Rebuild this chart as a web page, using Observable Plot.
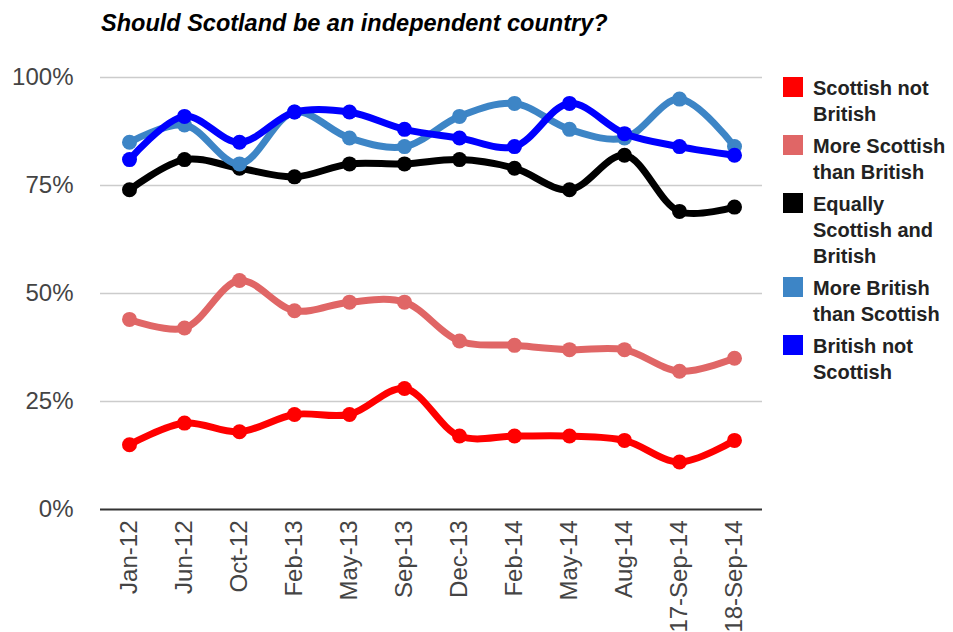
<!DOCTYPE html>
<html><head><meta charset="utf-8">
<script src="https://cdn.jsdelivr.net/npm/d3@7"></script>
<script src="https://cdn.jsdelivr.net/npm/@observablehq/plot@0.6"></script>
<style>
body{margin:0;background:#fff;width:953px;height:632px;overflow:hidden;position:relative;font-family:Arial,"Liberation Sans",sans-serif;}
#title{position:absolute;left:101px;top:10px;font-size:23.5px;font-weight:bold;font-style:italic;color:#000;line-height:normal;white-space:nowrap}
#chart{position:absolute;left:0;top:0}
#legend{position:absolute;left:783px;top:75px}
.item{display:flex;align-items:flex-start;margin-bottom:6px}
.sw{width:20px;height:20px;margin-top:2px;margin-right:10px;flex:none}
.lab{font-size:20px;font-weight:bold;color:#222;line-height:26px;width:150px}
</style></head><body>
<div id="title">Should Scotland be an independent country?</div>
<div id="chart"></div>
<div id="legend"></div>
<script>
const dates = ["Jan-12","Jun-12","Oct-12","Feb-13","May-13","Sep-13","Dec-13","Feb-14","May-14","Aug-14","17-Sep-14","18-Sep-14"];
const seriesNames = ["Scottish not British","More Scottish than British","Equally Scottish and British","More British than Scottish","British not Scottish"];
const seriesColors = ["#ff0000","#e06666","#000000","#3d85c6","#0000ff"];
const scottishNotBritish = [15,20,18,22,22,28,17,17,17,16,11,16];
const moreScottishThanBritish = [44,42,53,46,48,48,39,38,37,37,32,35];
const equallyScottishAndBritish = [74,81,79,77,80,80,81,79,74,82,69,70];
const moreBritishThanScottish = [85,89,80,92,86,84,91,94,88,86,95,84];
const britishNotScottish = [81,91,85,92,92,88,86,84,94,87,84,82];
const yTicks = [0,25,50,75,100];

const seriesValues = [scottishNotBritish, moreScottishThanBritish, equallyScottishAndBritish, moreBritishThanScottish, britishNotScottish];
const tables = seriesValues.map((vals, i) => vals.map((v, j) => ({date: dates[j], value: v, series: seriesNames[i]})));

const marks = [
  Plot.ruleY(yTicks.filter(d => d > 0), {stroke: "#cccccc", strokeWidth: 1.5}),
  Plot.ruleY([0], {stroke: "#333333", strokeWidth: 2}),
  Plot.axisY({ticks: yTicks, tickFormat: d => d + "%", tickSize: 0, tickPadding: 27, fontSize: 24, fill: "#444"}),
  Plot.axisX({tickRotate: -90, tickSize: 0, tickPadding: 11, fontSize: 24, fill: "#444"})
];
tables.forEach((t, i) => {
  marks.push(Plot.line(t, {x: "date", y: "value", stroke: seriesColors[i], strokeWidth: 7, curve: "catmull-rom"}));
  marks.push(Plot.dot(t, {x: "date", y: "value", fill: seriesColors[i], r: 7.5}));
});

const chart = Plot.plot({
  width: 780,
  height: 632,
  marginLeft: 100,
  marginRight: 18,
  marginTop: 77,
  marginBottom: 123,
  style: {fontFamily: "Arial, 'Liberation Sans', sans-serif", fontSize: "24px", color: "#444", background: "transparent", overflow: "visible"},
  x: {type: "point", domain: dates, padding: 0.5, label: null},
  y: {domain: [0, 100], label: null},
  marks
});
document.getElementById("chart").appendChild(chart);

const legend = document.getElementById("legend");
seriesNames.forEach((name, i) => {
  const item = document.createElement("div");
  item.className = "item";
  const sw = document.createElement("div");
  sw.className = "sw";
  sw.style.background = seriesColors[i];
  const lab = document.createElement("div");
  lab.className = "lab";
  lab.textContent = name;
  item.appendChild(sw); item.appendChild(lab);
  legend.appendChild(item);
});
</script>
</body></html>
